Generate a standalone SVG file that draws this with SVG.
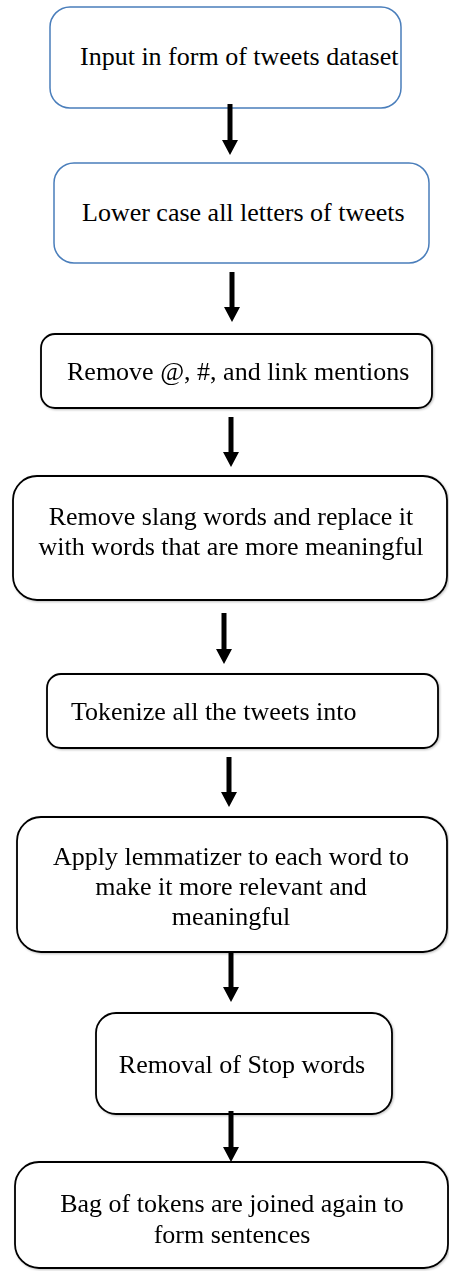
<svg xmlns="http://www.w3.org/2000/svg" width="449" height="1271" viewBox="0 0 449 1271">
<defs>
<filter id="sh" x="-5%" y="-20%" width="110%" height="140%">
<feDropShadow dx="1" dy="1" stdDeviation="1" flood-color="#000" flood-opacity="0.25"/>
</filter>
</defs>
<style>
.blue{fill:#fff;stroke:#4a7ebb;stroke-width:1.5}
.blk{fill:#fff;stroke:#000;stroke-width:1.8}
text{font-family:"Liberation Serif","Times New Roman",serif;font-size:26px;fill:#000}
.c{text-anchor:middle}
.conn line{stroke:#000;stroke-width:5}
.conn path{fill:#000}
</style>
<rect width="449" height="1271" fill="#fff"/>
<g id="n1"><rect class="blue" x="50" y="7" width="351" height="101" rx="20"/><text x="80" y="65">Input in form of tweets dataset</text></g>
<g id="n2"><rect class="blue" x="54" y="163" width="375" height="100" rx="20"/><text x="82" y="221">Lower case all letters of tweets</text></g>
<g id="n3" filter="url(#sh)"><rect class="blk" x="41" y="334" width="391" height="74" rx="14"/><text x="67" y="380">Remove @, #, and link mentions</text></g>
<g id="n4" filter="url(#sh)"><rect class="blk" x="13" y="476" width="434" height="124" rx="24"/><text class="c" x="231" y="525">Remove slang words and replace it</text><text class="c" x="231" y="555">with words that are more meaningful</text></g>
<g id="n5" filter="url(#sh)"><rect class="blk" x="47" y="674" width="391" height="74" rx="14"/><text x="71" y="720">Tokenize all the tweets into</text></g>
<g id="n6" filter="url(#sh)"><rect class="blk" x="17" y="817" width="430" height="135" rx="24"/><text class="c" x="231" y="865">Apply lemmatizer to each word to</text><text class="c" x="231" y="895">make it more relevant and</text><text class="c" x="231" y="925">meaningful</text></g>
<g id="n7" filter="url(#sh)"><rect class="blk" x="96" y="1013" width="296" height="101" rx="20"/><text class="c" x="242" y="1073">Removal of Stop words</text></g>
<g id="n8" filter="url(#sh)"><rect class="blk" x="15" y="1162" width="433" height="106" rx="24"/><text class="c" x="232" y="1212">Bag of tokens are joined again to</text><text class="c" x="232" y="1243">form sentences</text></g>
<g id="connectors" class="conn">
<line x1="230" y1="104" x2="230" y2="142"/><path d="M222,140 L238,140 L230,155 Z"/>
<line x1="232" y1="272" x2="232" y2="309"/><path d="M224,307 L240,307 L232,322 Z"/>
<line x1="231" y1="417" x2="231" y2="454"/><path d="M223,452 L239,452 L231,467 Z"/>
<line x1="224" y1="613" x2="224" y2="651"/><path d="M216,649 L232,649 L224,664 Z"/>
<line x1="229" y1="757" x2="229" y2="794"/><path d="M221,792 L237,792 L229,807 Z"/>
<line x1="231" y1="952" x2="231" y2="989"/><path d="M223,987 L239,987 L231,1002 Z"/>
<line x1="231" y1="1111" x2="231" y2="1149"/><path d="M223,1147 L239,1147 L231,1162 Z"/>
</g>
</svg>
